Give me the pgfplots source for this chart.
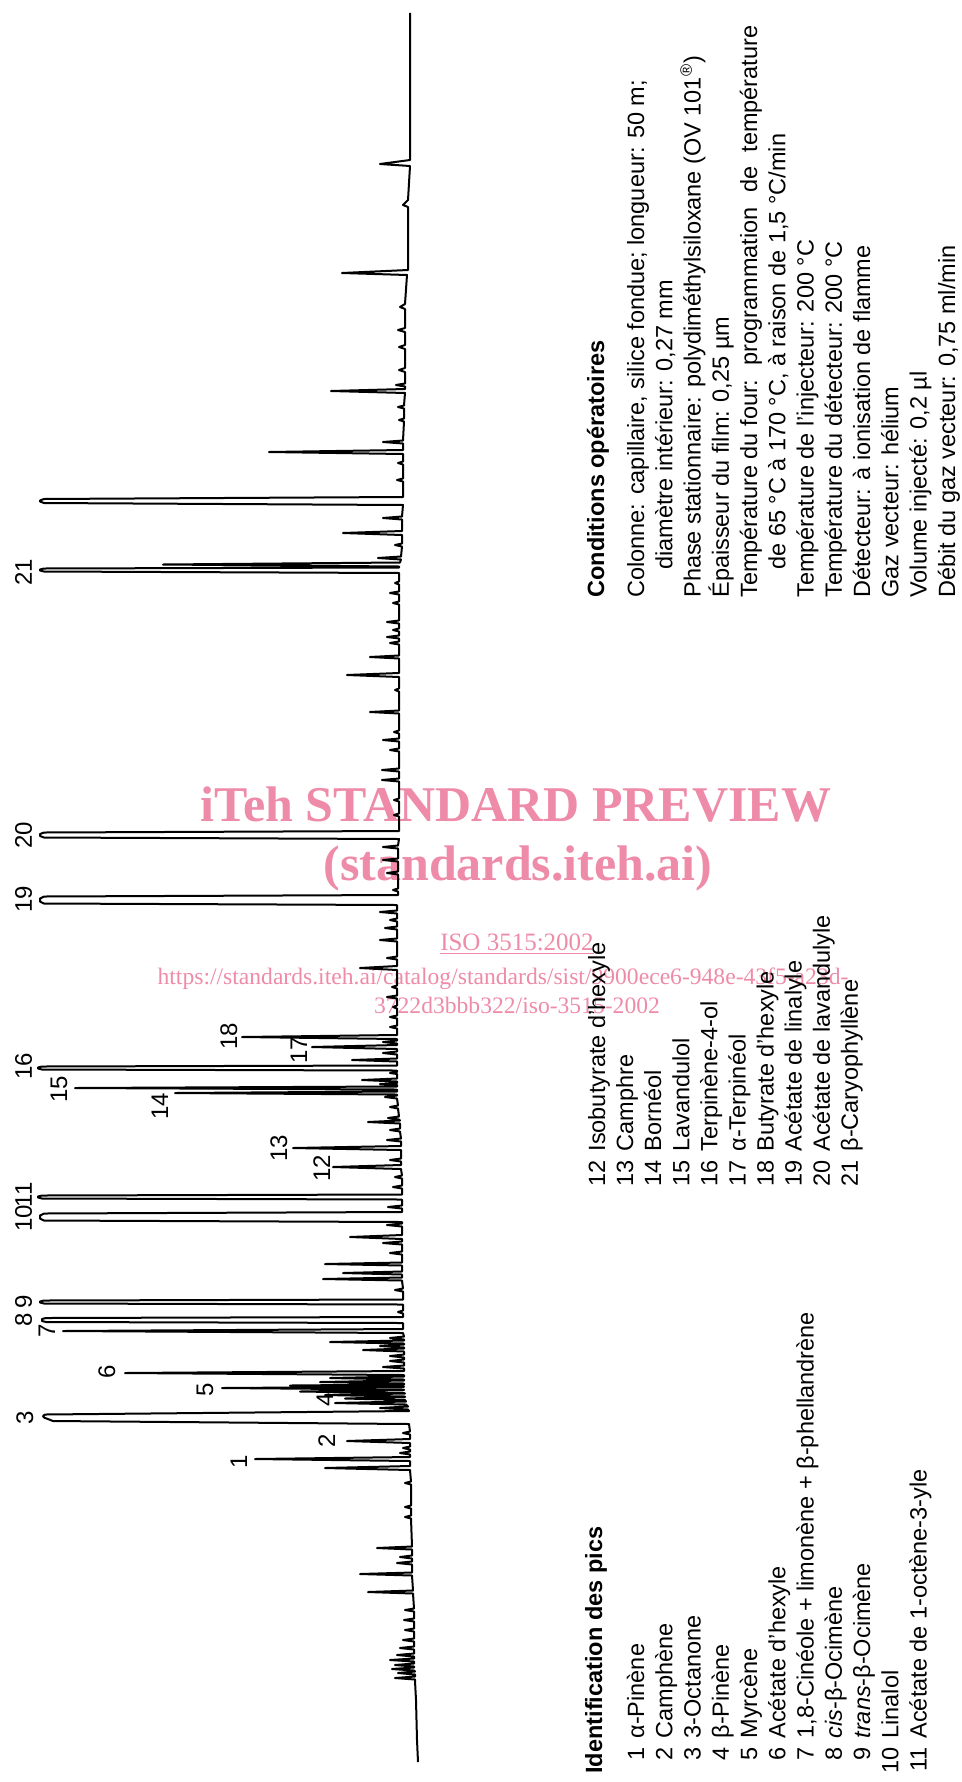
\documentclass[border=0pt]{standalone}
\usepackage{fontspec}
\setmainfont{Liberation Sans}
\newfontfamily\wmfont{Liberation Serif}
\usepackage{pgfplots}
\pgfplotsset{compat=1.18}
\definecolor{wmpink}{RGB}{238,139,169}
\newcommand\lst{\fontsize{11.75pt}{14pt}\selectfont}
\newcommand\lbl{\fontsize{12pt}{14pt}\selectfont}
\newcommand\nm[1]{\makebox[13.1pt][r]{#1}\hspace{4.5pt}}
\tikzset{rt/.style={rotate=90,anchor=base west,inner sep=0pt,font=\lst},
         pk/.style={rotate=90,anchor=base,inner sep=0pt,font=\lbl},
         wm/.style={anchor=base,inner sep=0pt,text=wmpink}}
\begin{document}
\begin{tikzpicture}
\useasboundingbox (0,0) rectangle (481pt,891pt);
\begin{axis}[at={(0,0)},anchor=south west,width=481pt,height=891pt,scale only axis,
  xmin=0,xmax=962,ymin=0,ymax=1782,y dir=reverse,axis lines=none,clip=false]
% watermark
\node[wm,font=\wmfont\bfseries\fontsize{25pt}{28pt}\selectfont] at (516,821) {iTeh STANDARD PREVIEW};
\node[wm,font=\wmfont\bfseries\fontsize{25pt}{28pt}\selectfont] at (518,880) {(standards.iteh.ai)};
\node[wm,font=\wmfont\fontsize{12.5pt}{14pt}\selectfont] at (517,950) {\underline{ISO 3515:2002}};
\node[wm,font=\wmfont\fontsize{11.8pt}{14pt}\selectfont] at (503,984) {https://standards.iteh.ai/catalog/standards/sist/9900ece6-948e-43f5-a23d-};
\node[wm,font=\wmfont\fontsize{11.8pt}{14pt}\selectfont] at (517,1013) {3722d3bbb322/iso-3515-2002};
% chromatogram
\addplot[black,line width=1pt,line join=round,mark=none] coordinates {
(410,13) (410,160) (380,164) (410,166)
(408,200) (403,205) (408,207) (408,270) (342,273) (407,275)
(405,304) (400,307) (405,309)
(405,328) (398,330) (405,332)
(405,345) (399,347) (405,349)
(405,368) (399,370) (405,372)
(405,383.5) (396,385) (405,386.5)
(405,389) (331,391) (405,393)
(404,405.5) (398,407) (404,408.5)
(404,418.5) (399,420) (404,421.5)
(403,440.5) (383,442) (403,443.5)
(403,450) (269,452) (403,454)
(403,461.5) (398,463) (403,464.5)
(403,478.5) (397,480) (403,481.5)
(403,497) (44,499) (40,500.5) (40,501.5) (44,503) (403,505)
(402,516.5) (383,518) (402,519.5)
(402,531) (343,533) (402,535)
(402,543.5) (395,545) (402,546.5)
(401,556.5) (378,558) (401,559.5)
(400,562.5) (163,564.5) (399,566.5)
(399,567.5) (44,568.5) (40,569.5) (40,570.5) (44,571.5) (399,573)
(399,581.5) (395,583) (399,584.5)
(399,591.5) (390,593) (399,594.5)
(399,601.5) (393,603) (399,604.5)
(399,620.5) (387,622) (399,623.5)
(399,628.5) (393,630) (399,631.5)
(399,635.5) (387,637) (399,638.5)
(399,641.5) (390,643) (399,644.5)
(399,655.5) (370,657) (399,658.5)
(399,673) (347,675) (399,677)
(399,688.5) (395,690) (399,691.5)
(399,710.5) (370,712) (399,713.5)
(399,730.5) (394,732) (399,733.5)
(399,738.5) (383,740) (399,741.5)
(399,748.5) (390,750) (399,751.5)
(399,768.5) (382,770) (399,771.5)
(399,778.5) (382,780) (399,781.5)
(399,798.5) (394,800) (399,801.5)
(399,813.5) (394,815) (399,816.5)
(399,831) (44,832.5) (40,834) (40,836) (44,837.5) (399,839)
(398,845.5) (383,847) (398,848.5)
(398,858.5) (383,860) (398,861.5)
(398,871.5) (387,873) (398,874.5)
(398,888.5) (393,890) (398,891.5)
(398,895) (44,896.5) (40,898.5) (40,901.5) (44,903.5) (397,905)
(397,910.5) (380,912) (397,913.5)
(397,918.5) (390,920) (397,921.5)
(397,926.5) (385,928) (397,929.5)
(397,938.5) (380,940) (397,941.5)
(397,956.5) (387,958) (397,959.5)
(397,966) (360,968) (397,970)
(397,985.5) (392,987) (397,988.5)
(397,995.5) (387,997) (397,998.5)
(397,1005.5) (393,1007) (397,1008.5)
(397,1015.5) (390,1017) (397,1018.5)
(397,1025.5) (390,1027) (397,1028.5)
(397,1035) (242,1037) (397,1039)
(397,1040.5) (383,1042) (397,1043.5)
(397,1045) (312,1047) (397,1049)
(397,1051.5) (383,1053) (397,1054.5)
(397,1058.5) (352,1060) (397,1061.5)
(397,1065.5) (42,1066.5) (38,1067.5) (38,1068.5) (42,1069.5) (397,1070.5)
(397,1072) (390,1073) (397,1074)
(397,1078.5) (362,1080) (397,1081.5)
(397,1083) (380,1084) (397,1085)
(397,1086.5) (75,1088) (397,1089.5)
(397,1091.5) (175,1093) (397,1094.5)
(397,1095.5) (385,1097) (397,1098.5)
(398,1105.5) (390,1107) (398,1108.5)
(399,1116.5) (388,1118) (399,1119.5)
(400,1120.5) (368,1122) (400,1123.5)
(400,1128.5) (390,1130) (400,1131.5)
(401,1138.5) (387,1140) (401,1141.5)
(401,1146) (293,1148) (401,1150)
(401,1158.5) (390,1160) (401,1161.5)
(401,1165) (333,1167) (401,1169)
(402,1175.5) (395,1177) (402,1178.5)
(402,1185.5) (393,1187) (402,1188.5)
(402,1194.5) (42,1195.5) (38,1196.5) (38,1197.5) (42,1198.5) (402,1199.5)
(402,1205.5) (388,1207) (402,1208.5)
(402,1212) (44,1213.5) (40,1215.5) (40,1218.5) (44,1220.5) (402,1222)
(402,1223.5) (387,1225) (402,1226.5)
(402,1235) (350,1237) (402,1239)
(402,1241.5) (383,1243) (402,1244.5)
(402,1251.5) (390,1253) (402,1254.5)
(402,1262.5) (325,1264) (402,1265.5)
(402,1271.5) (343,1273) (402,1274.5)
(402,1277.5) (323,1279) (402,1280.5)
(403,1288.5) (395,1290) (403,1291.5)
(403,1299.5) (44,1300.5) (40,1301.5) (40,1302.5) (44,1303.5) (403,1304.5)
(403,1310.5) (398,1312) (403,1313.5)
(403,1317) (46,1318) (42,1319) (42,1321) (46,1322) (403,1323)
(403,1329) (63,1331) (403,1333)
(404,1336.5) (390,1338) (404,1339.5)
(404,1340.5) (330,1342) (404,1343.5)
(404,1344.5) (380,1346) (404,1347.5)
(404,1348.5) (363,1350) (404,1351.5)
(404,1354.5) (390,1356) (404,1357.5)
(404,1359.5) (390,1361) (404,1362.5)
(404,1365.5) (383,1367) (404,1368.5)
(404,1371) (125,1373) (404,1375)
(404,1376.5) (330,1378) (404,1379.5)
(404,1380.5) (320,1382) (404,1383.5)
(404,1384.5) (290,1385.5) (404,1386.5)
(404,1386.8) (222,1388) (404,1389.5)
(404,1390) (300,1391.5) (404,1393)
(405,1393.5) (325,1395) (405,1396.5)
(405,1397) (345,1398.5) (405,1400)
(406,1401.5) (335,1403) (406,1404.5)
(408,1406.5) (380,1408) (408,1409.5)
(409,1411) (45,1414.5) (43,1416) (44,1417.5) (53,1421) (409,1424)
(410,1431.5) (403,1433) (410,1434.5)
(410,1439) (347,1441) (410,1443)
(410,1446.5) (403,1448) (410,1449.5)
(410,1451.5) (400,1453) (410,1454.5)
(410,1457) (255,1459) (410,1461)
(410,1466) (325,1468) (410,1470)
(411,1481.5) (405,1483) (411,1484.5)
(411,1505.5) (405,1507) (411,1508.5)
(411,1515.5) (405,1517) (411,1518.5)
(412,1546.5) (377,1548) (412,1549.5)
(412,1555.5) (400,1557) (412,1558.5)
(412,1561.5) (397,1563) (412,1564.5)
(412,1572.5) (360,1574) (412,1575.5)
(413,1590.5) (368,1592) (413,1593.5)
(414,1608.5) (405,1610) (414,1611.5)
(414,1618.5) (404,1620) (414,1621.5)
(414,1628.5) (405,1630) (414,1631.5)
(414,1638.5) (403,1640) (414,1641.5)
(414,1646.5) (400,1648) (414,1649.5)
(414,1653.5) (397,1655) (414,1656.5)
(414,1658.5) (390,1660) (414,1661.5)
(414,1663.5) (395,1665) (414,1666.5)
(414,1667.5) (392,1669) (414,1670.5)
(415,1671.5) (398,1673) (415,1674.5)
(415,1676.5) (395,1678) (415,1679.5)
(415,1681) (416,1700) (417,1740) (418,1762)
};
% peak labels
\node[pk] at (247,1462) {1};
\node[pk] at (335,1441) {2};
\node[pk] at (33,1418) {3};
\node[pk] at (333,1400) {4};
\node[pk] at (213,1390) {5};
\node[pk] at (115,1372) {6};
\node[pk] at (55,1331) {7};
\node[pk] at (32,1320) {8};
\node[pk] at (32,1302) {9};
\node[pk] at (32,1218) {10};
\node[pk] at (32,1195) {11};
\node[pk] at (330,1168) {12};
\node[pk] at (287,1148) {13};
\node[pk] at (168,1106) {14};
\node[pk] at (67,1089) {15};
\node[pk] at (32,1066) {16};
\node[pk] at (307,1050) {17};
\node[pk] at (237,1036) {18};
\node[pk] at (32,899) {19};
\node[pk] at (32,835) {20};
\node[pk] at (32,572) {21};
% identification list
\node[rt] at (602,1774) {\bfseries Identification des pics};
\node[rt] at (644.0,1774) {\nm{1}α-Pinène};
\node[rt] at (672.3,1774) {\nm{2}Camphène};
\node[rt] at (700.5,1774) {\nm{3}3-Octanone};
\node[rt] at (728.8,1774) {\nm{4}β-Pinène};
\node[rt] at (757.1,1774) {\nm{5}Myrcène};
\node[rt] at (785.4,1774) {\nm{6}Acétate d'hexyle};
\node[rt] at (813.6,1774) {\nm{7}1,8-Cinéole + limonène + β-phellandrène};
\node[rt] at (841.9,1774) {\nm{8}\textit{cis}-β-Ocimène};
\node[rt] at (870.2,1774) {\nm{9}\textit{trans}-β-Ocimène};
\node[rt] at (898.4,1774) {\nm{10}Linalol};
\node[rt] at (926.7,1774) {\nm{11}Acétate de 1-octène-3-yle};
\node[rt] at (605.0,1187) {\nm{12}Isobutyrate d'hexyle};
\node[rt] at (633.1,1187) {\nm{13}Camphre};
\node[rt] at (661.2,1187) {\nm{14}Bornéol};
\node[rt] at (689.3,1187) {\nm{15}Lavandulol};
\node[rt] at (717.4,1187) {\nm{16}Terpinène-4-ol};
\node[rt] at (745.5,1187) {\nm{17}α-Terpinéol};
\node[rt] at (773.6,1187) {\nm{18}Butyrate d'hexyle};
\node[rt] at (801.7,1187) {\nm{19}Acétate de linalyle};
\node[rt] at (829.8,1187) {\nm{20}Acétate de lavandulyle};
\node[rt] at (857.9,1187) {\nm{21}β-Caryophyllène};
% conditions
\node[rt] at (604,598) {\bfseries Conditions opératoires};
\node[rt] at (644.0,598) {Colonne: capillaire, silice fondue; longueur: 50 m;};
\node[rt] at (672.3,598) {\hspace{14pt}diamètre intérieur: 0,27 mm};
\node[rt] at (700.5,598) {Phase stationnaire: polydiméthylsiloxane (OV 101\textsuperscript{®})};
\node[rt] at (728.8,598) {Épaisseur du film: 0,25 µm};
\node[rt] at (757.1,598) {\hbox to 286pt{Température du four:\hfill programmation\hfill de\hfill température}};
\node[rt] at (785.4,598) {\hspace{14pt}de 65 °C à 170 °C, à raison de 1,5 °C/min};
\node[rt] at (813.6,598) {Température de l'injecteur: 200 °C};
\node[rt] at (841.9,598) {Température du détecteur: 200 °C};
\node[rt] at (870.2,598) {Détecteur: à ionisation de flamme};
\node[rt] at (898.4,598) {Gaz vecteur: hélium};
\node[rt] at (926.7,598) {Volume injecté: 0,2 µl};
\node[rt] at (955.0,598) {Débit du gaz vecteur: 0,75 ml/min};
\end{axis}
\end{tikzpicture}
\end{document}
